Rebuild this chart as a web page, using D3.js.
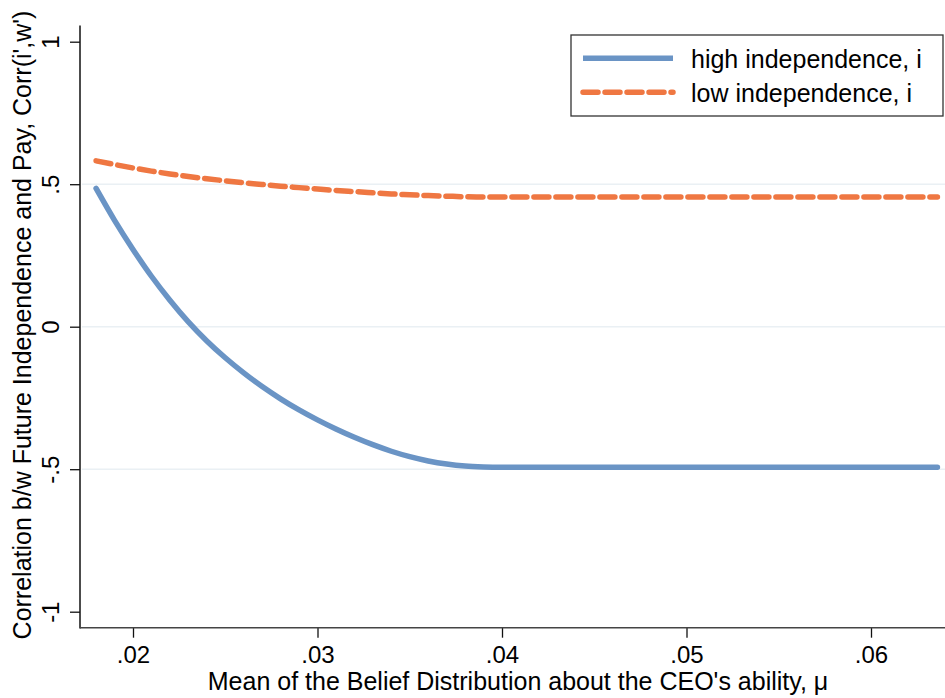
<!DOCTYPE html>
<html>
<head>
<meta charset="utf-8">
<script src="https://cdn.jsdelivr.net/npm/d3@7"></script>
<style>
  body { margin: 0; background: #fff; }
  svg text { font-family: "Liberation Sans", Arial, Helvetica, sans-serif; fill: #000; }
</style>
</head>
<body>
<div id="chart"></div>
<script>
// ---------- data ----------
const mu = [0.018, 0.019, 0.020, 0.021, 0.022, 0.023, 0.024, 0.025, 0.026, 0.027, 0.028, 0.029, 0.030,
            0.031, 0.032, 0.033, 0.034, 0.035, 0.036, 0.037, 0.038, 0.039, 0.040, 0.045, 0.050, 0.055, 0.060, 0.0636];

const highIndep = [0.485, 0.373, 0.271, 0.177, 0.093, 0.017, -0.050, -0.109, -0.162, -0.210, -0.253, -0.292, -0.327,
                   -0.359, -0.388, -0.414, -0.437, -0.456, -0.471, -0.482, -0.489, -0.492, -0.493, -0.493, -0.493, -0.493, -0.493, -0.493];

const lowIndep = [0.582, 0.569, 0.557, 0.546, 0.536, 0.527, 0.519, 0.512, 0.505, 0.499, 0.493, 0.488, 0.483,
                  0.478, 0.474, 0.470, 0.466, 0.463, 0.460, 0.458, 0.456, 0.455, 0.455, 0.455, 0.455, 0.455, 0.455, 0.455];

const xTicks = [0.02, 0.03, 0.04, 0.05, 0.06];
const xTickLabels = ['.02', '.03', '.04', '.05', '.06'];
const yTicks = [-1, -0.5, 0, 0.5, 1];
const yTickLabels = ['-1', '-.5', '0', '.5', '1'];
const gridVals = [-0.5, 0, 0.5];

const seriesNames = ['high independence, i', 'low independence, i'];

//====================STRUCTURE===================
const width = 945, height = 698;
const blue = '#6a94c5', orange = '#ef7742';

const svg = d3.select('#chart')
.append('svg')
.attr('width', width)
.attr('height', height)

const x = d3.scaleLinear()
.domain([0.02, 0.06])
.range([133, 871])

const y = d3.scaleLinear()
.domain([-1, 1])
.range([611.7, 41.7])

const plotLeft = 80, plotRight = 945, plotTop = 25.5, plotBottom = 627.7;

//================GRID==========================================
svg.append('g')
.selectAll('line')
.data(gridVals)
.enter()
.append('line')
.attr('x1', plotLeft + 2)
.attr('x2', plotRight)
.attr('y1', d => y(d))
.attr('y2', d => y(d))
.attr('stroke', '#eaf0f4')
.attr('stroke-width', 1.6)

//================AXES==========================================
const yAxis = svg.append('g')
.attr('transform', `translate(${plotLeft},0)`)
.call(d3.axisLeft(y).tickValues(yTicks).tickFormat((d, i) => yTickLabels[i]).tickSize(10).tickPadding(0))

yAxis.select('.domain').remove()
yAxis.selectAll('.tick line').attr('stroke', '#111').attr('stroke-width', 1.3)
yAxis.selectAll('.tick text')
.attr('font-size', 24)
.attr('text-anchor', 'middle')
.attr('x', null)
.attr('dy', null)
.attr('transform', 'translate(-21,0) rotate(-90)')

svg.append('line')
.attr('x1', plotLeft).attr('x2', plotLeft)
.attr('y1', plotTop).attr('y2', plotBottom + 0.7)
.attr('stroke', '#111').attr('stroke-width', 1.5)

const xAxis = svg.append('g')
.attr('transform', `translate(0,${plotBottom})`)
.call(d3.axisBottom(x).tickValues(xTicks).tickFormat((d, i) => xTickLabels[i]).tickSize(10).tickPadding(0))

xAxis.select('.domain').remove()
xAxis.selectAll('.tick line').attr('stroke', '#111').attr('stroke-width', 1.3)
xAxis.selectAll('.tick text')
.attr('font-size', 24)
.attr('y', 35)
.attr('dy', null)

svg.append('line')
.attr('x1', plotLeft).attr('x2', plotRight)
.attr('y1', plotBottom).attr('y2', plotBottom)
.attr('stroke', '#444').attr('stroke-width', 1.6)

// axis titles
svg.append('text')
.attr('x', 518)
.attr('y', 690)
.attr('text-anchor', 'middle')
.attr('font-size', 25)
.text("Mean of the Belief Distribution about the CEO's ability, \u03bc")

svg.append('text')
.attr('transform', 'translate(31,325) rotate(-90)')
.attr('text-anchor', 'middle')
.attr('font-size', 25)
.text("Correlation b/w Future Independence and Pay, Corr(i',w')")

//================LINES==========================================
const line = d3.line()
.x(d => x(d[0]))
.y(d => y(d[1]))
.curve(d3.curveMonotoneX)

svg.append('path')
.datum(mu.map((m, i) => [m, lowIndep[i]]))
.attr('d', line)
.attr('fill', 'none')
.attr('stroke', orange)
.attr('stroke-width', 5.5)
.attr('stroke-linecap', 'round')
.attr('stroke-dasharray', '15,7')

svg.append('path')
.datum(mu.map((m, i) => [m, highIndep[i]]))
.attr('d', line)
.attr('fill', 'none')
.attr('stroke', blue)
.attr('stroke-width', 5.5)
.attr('stroke-linecap', 'round')

//================LEGEND==========================================
const legend = svg.append('g')

legend.append('rect')
.attr('x', 571)
.attr('y', 35)
.attr('width', 372)
.attr('height', 81)
.attr('fill', '#fff')
.attr('stroke', '#333')
.attr('stroke-width', 1.3)

const legendItems = legend.selectAll('g.item')
.data(seriesNames)
.enter()
.append('g')
.attr('class', 'item')
.attr('transform', (d, i) => `translate(0,${i == 0 ? 58.3 : 92.3})`)

legendItems.append('line')
.attr('x1', 583).attr('x2', 673)
.attr('y1', 0).attr('y2', 0)
.attr('stroke', (d, i) => i == 0 ? blue : orange)
.attr('stroke-width', 5.5)
.attr('stroke-dasharray', (d, i) => i == 0 ? null : '15,7')
.attr('stroke-linecap', (d, i) => i == 0 ? 'butt' : 'round')

legendItems.append('text')
.attr('x', 691)
.attr('y', 9.5)
.attr('font-size', 25)
.text(d => d)
</script>
</body>
</html>
